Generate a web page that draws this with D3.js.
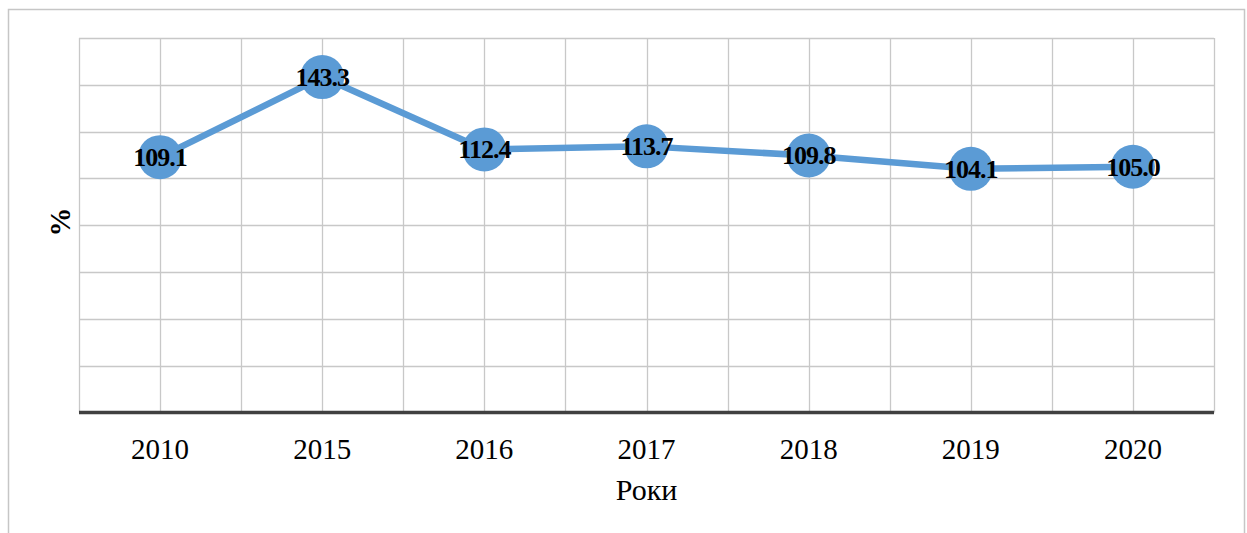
<!DOCTYPE html>
<html>
<head>
<meta charset="utf-8">
<script src="https://cdn.jsdelivr.net/npm/d3@7"></script>
<style>
  body { margin: 0; background: #fff; }
  svg text { font-family: "Liberation Serif", "Times New Roman", serif; }
</style>
</head>
<body>
<div id="chart"></div>
<script>
// дані
const years = ["2010", "2015", "2016", "2017", "2018", "2019", "2020"];
const values = [109.1, 143.3, 112.4, 113.7, 109.8, 104.1, 105.0];
const yTicks = [0, 20, 40, 60, 80, 100, 120, 140, 160];

const W = 1247, H = 533;
const m = { left: 79, right: 33, top: 38, bottom: 120 };
const innerW = W - m.left - m.right;
const innerH = 412.5 - m.top;

const svg = d3.select("#chart").append("svg")
    .attr("width", W)
    .attr("height", H);

// рамка
svg.append("path")
    .attr("d", `M8.5,${H} V9.5 H1244.5 V${H}`)
    .attr("fill", "none")
    .attr("stroke", "#c6c6c6")
    .attr("stroke-width", 1.5);

const g = svg.append("g").attr("transform", `translate(${m.left},${m.top})`);

const x = d3.scaleBand().domain(years).range([0, innerW]);
const y = d3.scaleLinear().domain([0, 160]).range([innerH, 0]);
const cx = d => x(d) + x.bandwidth() / 2;

// сітка горизонтальна
g.append("g").selectAll("line")
    .data(yTicks.slice(1))
    .join("line")
    .attr("x1", 0).attr("x2", innerW)
    .attr("y1", d => Math.round(y(d)) + 0.5).attr("y2", d => Math.round(y(d)) + 0.5)
    .attr("stroke", "#c8c8c8").attr("stroke-width", 1.3);

// сітка вертикальна (межі та середини категорій)
const vLines = [];
years.forEach(d => { vLines.push(x(d)); vLines.push(cx(d)); });
vLines.push(innerW);
g.append("g").selectAll("line")
    .data(vLines)
    .join("line")
    .attr("x1", d => Math.round(d) + 0.5).attr("x2", d => Math.round(d) + 0.5)
    .attr("y1", 0).attr("y2", innerH)
    .attr("stroke", "#c8c8c8").attr("stroke-width", 1.3);

// вісь X
g.append("line")
    .attr("x1", 0).attr("x2", innerW)
    .attr("y1", innerH).attr("y2", innerH)
    .attr("stroke", "#404040").attr("stroke-width", 3.5);

const xAxis = g.append("g")
    .attr("transform", `translate(0,${innerH})`)
    .call(d3.axisBottom(x).tickSize(0).tickPadding(0));
xAxis.select(".domain").remove();
xAxis.selectAll("text")
    .attr("dy", null)
    .attr("y", 46)
    .attr("fill", "#000")
    .style("font-size", "29px");

// підписи осей
svg.append("text")
    .attr("x", m.left + innerW / 2)
    .attr("y", 500)
    .attr("text-anchor", "middle")
    .style("font-size", "30px")
    .text("Роки");

svg.append("text")
    .attr("transform", "translate(70,222) rotate(-90)")
    .attr("text-anchor", "middle")
    .style("font-size", "29px")
    .style("font-weight", "bold")
    .text("%");

// лінія
const line = d3.line().x((d, i) => cx(years[i])).y(d => y(d));
g.append("path")
    .datum(values)
    .attr("fill", "none")
    .attr("stroke", "#5b9bd5")
    .attr("stroke-width", 6.5)
    .attr("stroke-linejoin", "round")
    .attr("d", line);

// маркери
g.append("g").selectAll("circle")
    .data(values)
    .join("circle")
    .attr("cx", (d, i) => cx(years[i]))
    .attr("cy", d => y(d))
    .attr("r", 22)
    .attr("fill", "#5b9bd5");

// підписи значень
g.append("g").selectAll("text")
    .data(values)
    .join("text")
    .attr("x", (d, i) => cx(years[i]))
    .attr("y", d => y(d) + 9)
    .attr("text-anchor", "middle")
    .style("font-size", "26px")
    .style("font-weight", "bold")
    .style("letter-spacing", "-1px")
    .text(d => d.toFixed(1));
</script>
</body>
</html>
